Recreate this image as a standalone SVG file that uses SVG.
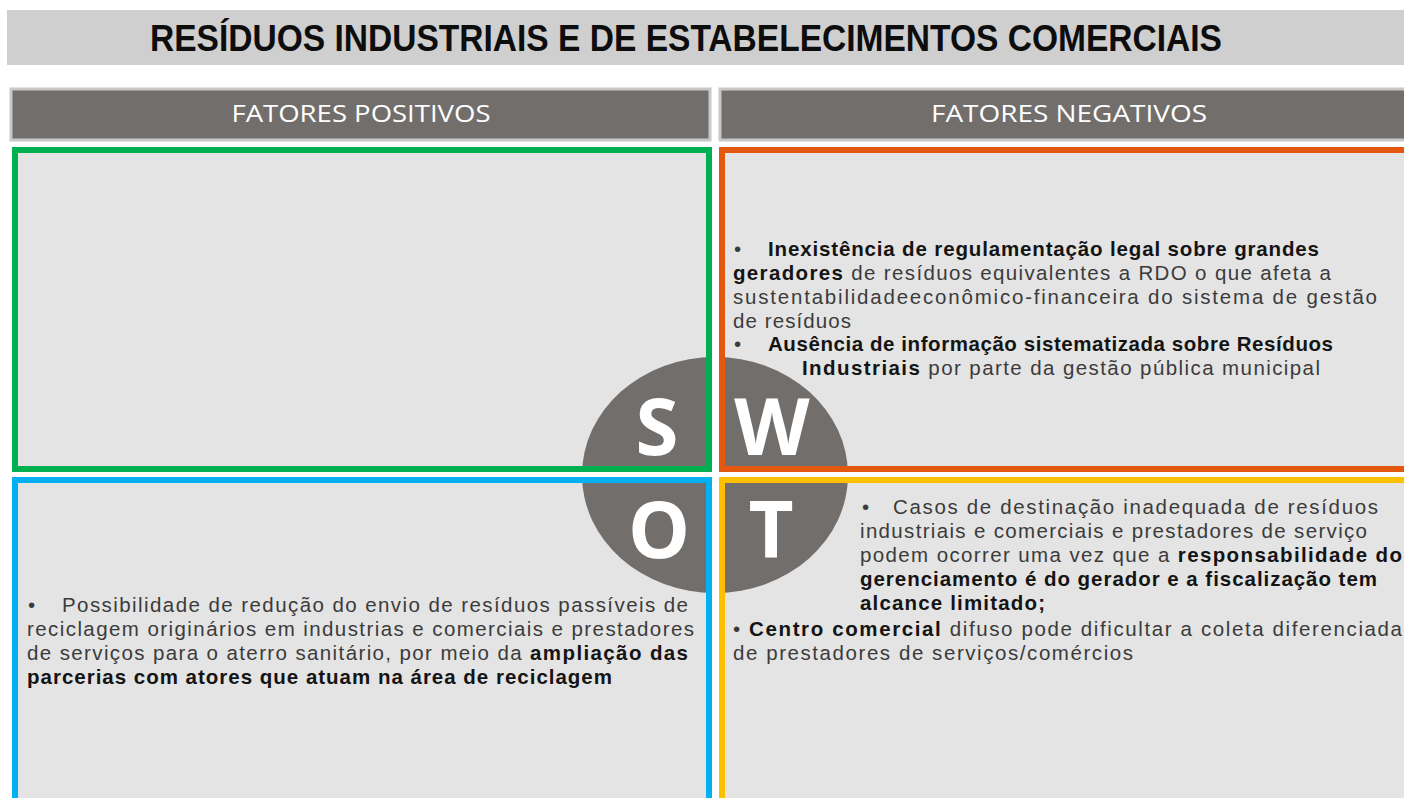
<svg xmlns="http://www.w3.org/2000/svg" width="1404" height="798" viewBox="0 0 1404 798">
<style>
.title{font-family:"Liberation Sans",Arial,sans-serif;font-weight:700;font-size:36px;fill:#0d0d0d}
.hdr{font-family:"Open Sans","Liberation Sans",sans-serif;font-size:23px;fill:#ffffff;text-anchor:middle}
.hbar{fill:#716e6c;stroke:#c9c8c8;stroke-width:3}
.qf{fill:#e4e4e4}
.qb{fill:none;stroke-width:6}
.body{font-family:"Liberation Sans",Arial,sans-serif;font-size:20.5px;fill:#3b3b3b}
.b{font-weight:700;fill:#141414}
.let{font-family:"Open Sans","Liberation Sans",sans-serif;font-weight:700;font-size:78px;fill:#ffffff;text-anchor:middle}
</style>
<rect width="1404" height="798" fill="#ffffff"/>
<g id="title">
<rect x="7" y="10" width="1404" height="55" fill="#d0cfcf"/>
<text class="title" x="150" y="51" textLength="1072" lengthAdjust="spacingAndGlyphs">RESÍDUOS INDUSTRIAIS E DE ESTABELECIMENTOS COMERCIAIS</text>
</g>
<g id="header-pos">
<rect class="hbar" x="11" y="89" width="699" height="51"/>
<text class="hdr" x="361" y="122" textLength="259" lengthAdjust="spacingAndGlyphs">FATORES POSITIVOS</text>
</g>
<g id="header-neg">
<rect class="hbar" x="720" y="89" width="700" height="51"/>
<text class="hdr" x="1069" y="122" textLength="276" lengthAdjust="spacingAndGlyphs">FATORES NEGATIVOS</text>
</g>
<g id="fills">
<rect class="qf" x="12" y="147" width="700" height="325"/>
<rect class="qf" x="719" y="147" width="700" height="325"/>
<rect class="qf" x="12" y="477" width="700" height="340"/>
<rect class="qf" x="719" y="477" width="700" height="340"/>
</g>
<g id="swot-circle">
<ellipse cx="715" cy="475" rx="133" ry="118" fill="#716e6c"/>
<rect x="712" y="140" width="7" height="670" fill="#ffffff"/>
<rect x="0" y="472" width="1404" height="5" fill="#ffffff"/>
</g>
<g id="borders">
<rect class="qb" x="15" y="150" width="694" height="319" stroke="#00b050"/>
<rect class="qb" x="722" y="150" width="700" height="319" stroke="#e3570f"/>
<rect class="qb" x="15" y="480" width="694" height="340" stroke="#00b0f0"/>
<rect class="qb" x="722" y="480" width="700" height="340" stroke="#ffc000"/>
</g>
<g id="letters">
<text class="let" x="657" y="455">S</text>
<text class="let" x="772" y="455">W</text>
<text class="let" x="659" y="558">O</text>
<text class="let" x="771" y="558">T</text>
</g>
<g id="weaknesses" class="body">
<text x="734" y="256">•</text>
<text x="768" y="256" textLength="551" lengthAdjust="spacing" class="b">Inexistência de regulamentação legal sobre grandes</text>
<text x="733" y="280" textLength="598" lengthAdjust="spacing"><tspan class="b">geradores</tspan> de resíduos equivalentes a RDO o que afeta a</text>
<text x="733" y="304" textLength="644" lengthAdjust="spacing">sustentabilidadeeconômico-financeira do sistema de gestão</text>
<text x="733" y="328" textLength="118" lengthAdjust="spacing">de resíduos</text>
<text x="734" y="351">•</text>
<text x="768" y="351" textLength="565" lengthAdjust="spacing" class="b">Ausência de informação sistematizada sobre Resíduos</text>
<text x="802" y="375" textLength="518" lengthAdjust="spacing"><tspan class="b">Industriais</tspan> por parte da gestão pública municipal</text>
</g>
<g id="opportunities" class="body">
<text x="28" y="612">•</text>
<text x="62" y="612" textLength="626" lengthAdjust="spacing">Possibilidade de redução do envio de resíduos passíveis de</text>
<text x="27" y="636" textLength="667" lengthAdjust="spacing">reciclagem originários em industrias e comerciais e prestadores</text>
<text x="27" y="660" textLength="661" lengthAdjust="spacing">de serviços para o aterro sanitário, por meio da <tspan class="b">ampliação das</tspan></text>
<text x="27" y="684" textLength="585" lengthAdjust="spacing" class="b">parcerias com atores que atuam na área de reciclagem</text>
</g>
<g id="threats" class="body">
<text x="862" y="514">•</text>
<text x="893" y="514" textLength="485" lengthAdjust="spacing">Casos de destinação inadequada de resíduos</text>
<text x="860" y="538" textLength="507" lengthAdjust="spacing">industriais e comerciais e prestadores de serviço</text>
<text x="860" y="562" textLength="542" lengthAdjust="spacing">podem ocorrer uma vez que a <tspan class="b">responsabilidade do</tspan></text>
<text x="860" y="586" textLength="517" lengthAdjust="spacing" class="b">gerenciamento é do gerador e a fiscalização tem</text>
<text x="860" y="610" textLength="185" lengthAdjust="spacing" class="b">alcance limitado;</text>
<text x="733" y="636" textLength="669" lengthAdjust="spacing">• <tspan class="b">Centro comercial</tspan> difuso pode dificultar a coleta diferenciada</text>
<text x="733" y="660" textLength="400" lengthAdjust="spacing">de prestadores de serviços/comércios</text>
</g>
</svg>
